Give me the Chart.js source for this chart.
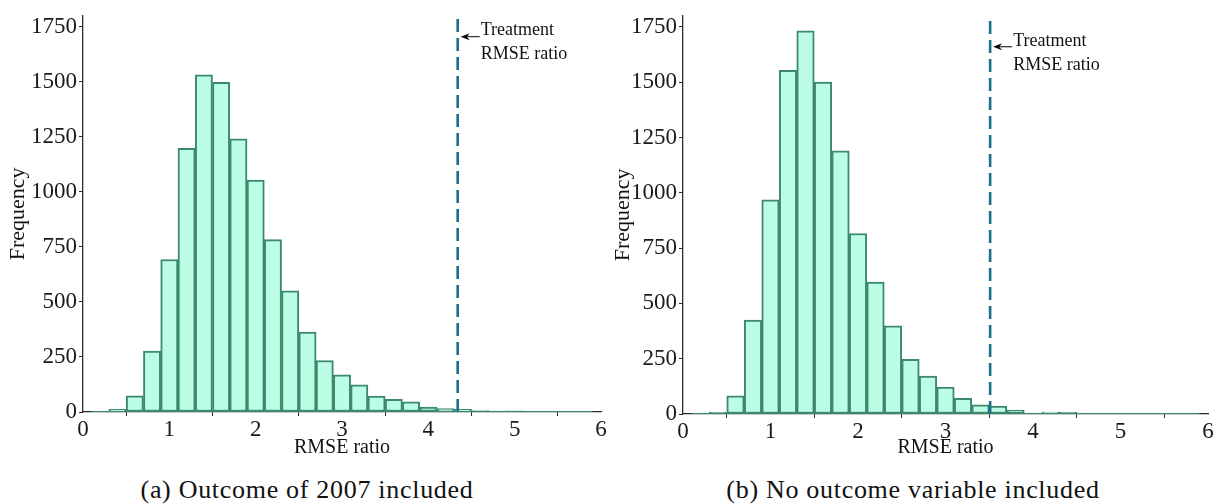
<!DOCTYPE html>
<html>
<head>
<meta charset="utf-8">
<script src="https://cdn.jsdelivr.net/npm/chart.js@4.4.1/dist/chart.umd.min.js"></script>
<style>
  html, body { margin:0; padding:0; background:#fff; }
  body { width:1218px; height:504px; position:relative; overflow:hidden; }
  .wrap { position:absolute; top:0; height:462px; }
  .cap { position:absolute; top:475px; font-family:"Liberation Serif", serif; font-size:26px; letter-spacing:0.7px; color:#111; white-space:nowrap; transform:translateX(-50%); line-height:30px; }
</style>
</head>
<body>
<div class="wrap" style="left:0;width:610px;"><canvas id="c1"></canvas></div>
<div class="wrap" style="left:605px;width:613px;"><canvas id="c2"></canvas></div>
<div class="cap" id="capA" style="left:307px;"></div>
<div class="cap" id="capB" style="left:913px;"></div>
<script>
// ---- data ----
const binCenters = [0.2,0.4,0.6,0.8,1.0,1.2,1.4,1.6,1.8,2.0,2.2,2.4,2.6,2.8,3.0,3.2,3.4,3.6,3.8,4.0,4.2,4.4,4.6,4.8,5.0,5.2,5.4,5.6,5.8];
const binRange = [0.1, 5.9];
const countsA = [1,12,73,277,693,1198,1532,1498,1241,1054,783,550,363,234,169,123,72,57,46,22,15,12,7,4,5,2,1,1,1];
const countsB = [1,7,82,424,968,1553,1732,1500,1190,816,596,399,247,171,122,71,42,36,18,4,9,7,4,3,2,2,1,1,1];
const treatmentRatio = [4.34, 3.51];
const arrowFreq = [1705, 1660];
const xTicks = [0,1,2,3,4,5,6];
const yTicks = [0,250,500,750,1000,1250,1500,1750];
const xRange = [0, 6];
const yRange = [0, 1800];
const captions = ["(a) Outcome of 2007 included", "(b) No outcome variable included"];
const xLabel = "RMSE ratio";
const yLabel = "Frequency";
const annotLines = ["Treatment", "RMSE ratio"];

document.getElementById('capA').textContent = captions[0];
document.getElementById('capB').textContent = captions[1];

const FILL = '#bbfee5';
const EDGE = '#3c896c';
const VLINE = '#1b6d8c';
const AXIS = '#2a2a2a';
const SERIF = "'Liberation Serif', serif";

const annotPlugin = {
  id: 'annot',
  afterDatasetsDraw(chart, args, opts) {
    const xs = chart.scales.x, ys = chart.scales.y;
    const ctx = chart.ctx;
    const xl = xs.getPixelForValue(opts.value);
    const ya = ys.getPixelForValue(opts.freq);
    ctx.save();
    ctx.strokeStyle = '#000';
    ctx.fillStyle = '#000';
    ctx.lineWidth = 1;
    const tip = xl + 3, tail = xl + 22;
    ctx.beginPath(); ctx.moveTo(tip + 5, ya); ctx.lineTo(tail, ya); ctx.stroke();
    ctx.beginPath();
    ctx.moveTo(tip, ya); ctx.lineTo(tip + 9, ya - 3.5); ctx.lineTo(tip + 6, ya); ctx.lineTo(tip + 9, ya + 3.5); ctx.closePath(); ctx.fill();
    ctx.font = "18px " + SERIF;
    ctx.textAlign = 'left';
    ctx.textBaseline = 'middle';
    ctx.fillStyle = '#111';
    ctx.fillText(annotLines[0], tail + 1, ya - 6);
    ctx.fillText(annotLines[1], tail + 1, ya + 18);
    ctx.restore();
  }
};

function makeChart(id, counts, tr, af, opt) {
  const barData = binCenters.map((c, i) => ({x: c, y: counts[i]}));
  return new Chart(document.getElementById(id), {
    type: 'bar',
    data: {
      datasets: [
        {
          type: 'line',
          data: [{x: tr, y: yRange[0]}, {x: tr, y: yRange[1]}],
          borderColor: VLINE, borderWidth: 2.6, borderDash: [13, 6],
          pointRadius: 0, order: 1, fill: false
        },
        {
          type: 'line',
          data: [{x: binRange[0], y: 0}, {x: binRange[1], y: 0}],
          borderColor: EDGE, borderWidth: 2,
          pointRadius: 0, order: 2, fill: false
        },
        {
          type: 'bar',
          data: barData,
          backgroundColor: FILL, borderColor: EDGE, borderWidth: 2,
          borderSkipped: false,
          barPercentage: 1.0, categoryPercentage: 1.0, order: 3
        }
      ]
    },
    options: {
      responsive: true, maintainAspectRatio: false, animation: false,
      devicePixelRatio: 1,
      layout: { padding: { top: 12, right: opt.padRight, left: 0, bottom: 0 } },
      plugins: { legend: { display: false }, tooltip: { enabled: false }, annot: { value: tr, freq: af } },
      scales: {
        x: {
          type: 'linear', min: xRange[0], max: xRange[1], offset: false,
          afterBuildTicks: s => { s.ticks = xTicks.map(v => ({value: v})); },
          afterFit: s => { s.height = opt.xHeight; },
          grid: { drawOnChartArea: false, drawTicks: true, tickLength: 4, color: AXIS, lineWidth: 1 },
          border: { display: true, color: AXIS, width: 1.3 },
          ticks: { font: { family: SERIF, size: 23 }, color: '#1a1a1a', padding: 0, maxRotation: 0, autoSkip: false, callback: v => String(v) },
          title: { display: true, text: xLabel, font: { family: SERIF, size: 20 }, color: '#111', padding: { top: 0, bottom: 2 } }
        },
        y: {
          min: yRange[0], max: yRange[1],
          afterBuildTicks: s => { s.ticks = yTicks.map(v => ({value: v})); },
          afterFit: s => { s.width = opt.yWidth; },
          grid: { drawOnChartArea: false, drawTicks: true, tickLength: 4, color: AXIS, lineWidth: 1 },
          border: { display: true, color: AXIS, width: 1.3 },
          ticks: { font: { family: SERIF, size: 23 }, color: '#1a1a1a', padding: 2, callback: v => String(v) },
          title: { display: true, text: yLabel, font: { family: SERIF, size: 22, lineHeight: 1.7 }, color: '#111', padding: 0 }
        }
      }
    },
    plugins: [annotPlugin]
  });
}

makeChart('c1', countsA, treatmentRatio[0], arrowFreq[0], { padRight: 9, xHeight: 50, yWidth: 83 });
makeChart('c2', countsB, treatmentRatio[1], arrowFreq[1], { padRight: 10, xHeight: 48, yWidth: 78 });
</script>
</body>
</html>
